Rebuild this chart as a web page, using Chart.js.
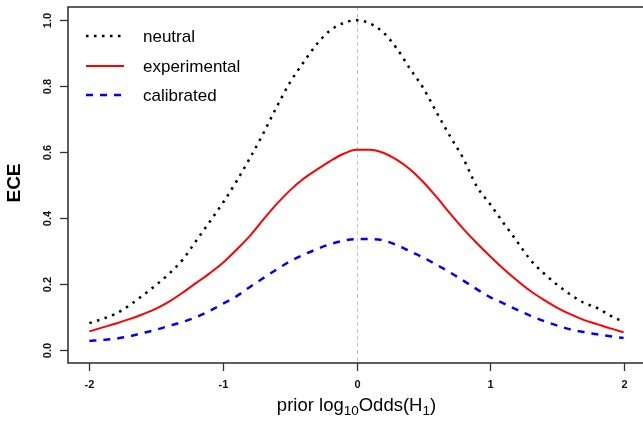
<!DOCTYPE html>
<html><head><meta charset="utf-8">
<script src="https://cdn.jsdelivr.net/npm/chart.js@4.4.1/dist/chart.umd.min.js"></script>
<style>html,body{margin:0;padding:0;overflow:hidden;background:#fff}#wrap{width:643px;height:421px;overflow:hidden}</style>
</head><body><div id="wrap"><canvas id="c" width="660" height="421"></canvas></div>
<script>
const priorLogOdds = [-2.0,-1.9,-1.8,-1.7,-1.6,-1.5,-1.4,-1.3,-1.2,-1.1,-1.0,-0.9,-0.8,-0.7,-0.6,-0.5,-0.4,-0.3,-0.2,-0.1,0.0,0.1,0.2,0.3,0.4,0.5,0.6,0.7,0.8,0.9,1.0,1.1,1.2,1.3,1.4,1.5,1.6,1.7,1.8,1.9,2.0];
const neutral = [0.081,0.094,0.110,0.135,0.165,0.197,0.232,0.274,0.331,0.388,0.446,0.510,0.580,0.655,0.735,0.810,0.870,0.926,0.968,0.991,1.000,0.990,0.963,0.915,0.853,0.794,0.720,0.648,0.580,0.496,0.442,0.385,0.330,0.274,0.233,0.198,0.168,0.143,0.127,0.104,0.084];
const experimental = [0.056,0.068,0.080,0.093,0.108,0.125,0.147,0.174,0.203,0.232,0.264,0.303,0.345,0.394,0.441,0.483,0.518,0.546,0.572,0.594,0.607,0.607,0.598,0.577,0.548,0.509,0.463,0.414,0.367,0.324,0.284,0.246,0.211,0.179,0.152,0.128,0.108,0.091,0.078,0.065,0.053];
const calibrated = [0.027,0.030,0.034,0.041,0.051,0.061,0.073,0.085,0.099,0.118,0.140,0.162,0.190,0.217,0.243,0.268,0.288,0.305,0.320,0.331,0.336,0.336,0.332,0.318,0.299,0.280,0.258,0.235,0.210,0.184,0.160,0.141,0.122,0.104,0.088,0.074,0.062,0.054,0.047,0.041,0.036];
const seriesLabels = ['neutral','experimental','calibrated'];
const xTicks = [-2,-1,0,1,2];
const xTickLabels = ['-2','-1','0','1','2'];
const yTicks = [0,0.2,0.4,0.6,0.8,1.0];
const yTickLabels = ['0.0','0.2','0.4','0.6','0.8','1.0'];
const yTitle = 'ECE';

const FONT = '"Liberation Sans", Arial, Helvetica, sans-serif';
function pts(ys){ return priorLogOdds.map((x,i)=>({x:x,y:ys[i]})); }

const decor = {
  id:'decor',
  beforeDatasetsDraw(chart){
    const {ctx, chartArea:a, scales:{x}} = chart;
    const px = Math.round(x.getPixelForValue(0))+0.5;
    ctx.save();
    ctx.strokeStyle='#c4c4c4'; ctx.lineWidth=1; ctx.setLineDash([4,3]);
    ctx.beginPath(); ctx.moveTo(px,a.top); ctx.lineTo(px,a.bottom); ctx.stroke();
    ctx.restore();
  },
  afterDraw(chart){
    const {ctx, chartArea:a, scales:{x,y}} = chart;
    ctx.save();
    ctx.strokeStyle='#2a2a2a'; ctx.lineWidth=1.5; ctx.setLineDash([]);
    ctx.strokeRect(a.left, a.top, a.right-a.left, a.bottom-a.top);
    ctx.lineWidth=1.3; ctx.strokeStyle='#333';
    ctx.fillStyle='#111';
    ctx.font='bold 11px '+FONT;
    yTicks.forEach((v,i)=>{
      const py = Math.round(y.getPixelForValue(v))+0.5;
      ctx.beginPath(); ctx.moveTo(a.left-8,py); ctx.lineTo(a.left,py); ctx.stroke();
      ctx.save(); ctx.translate(47.5,py); ctx.rotate(-Math.PI/2);
      ctx.textAlign='center'; ctx.textBaseline='middle'; ctx.fillText(yTickLabels[i],0,0);
      ctx.restore();
    });
    xTicks.forEach((v,i)=>{
      const px = Math.round(x.getPixelForValue(v))+0.5;
      ctx.beginPath(); ctx.moveTo(px,a.bottom); ctx.lineTo(px,a.bottom+8); ctx.stroke();
      ctx.textAlign='center'; ctx.textBaseline='middle'; ctx.fillText(xTickLabels[i],px,385);
    });
    // y title
    ctx.save(); ctx.translate(15,(a.top+a.bottom)/2-2); ctx.rotate(-Math.PI/2);
    ctx.font='bold 19px '+FONT; ctx.textAlign='center'; ctx.textBaseline='middle'; ctx.fillStyle='#000';
    ctx.fillText(yTitle,0,0); ctx.restore();
    // x title with subscripts
    const parts=[['prior log',0],['10',1],['Odds(H',0],['1',1],[')',0]];
    const big='18.5px '+FONT, small='13.5px '+FONT;
    let w=0; parts.forEach(p=>{ctx.font=p[1]?small:big; w+=ctx.measureText(p[0]).width;});
    let cx=(a.left+a.right)/2 - w/2; const base=411;
    ctx.fillStyle='#000'; ctx.textAlign='left'; ctx.textBaseline='alphabetic';
    parts.forEach(p=>{ctx.font=p[1]?small:big; ctx.fillText(p[0],cx,base+(p[1]?4:0)); cx+=ctx.measureText(p[0]).width;});
    // legend
    const rows=[36,66,95];
    chart.data.datasets.forEach((ds,i)=>{
      ctx.strokeStyle=ds.borderColor; ctx.lineWidth=ds.borderWidth; ctx.lineCap='butt';
      ctx.setLineDash(ds.borderDash||[]);
      ctx.beginPath(); ctx.moveTo(86,rows[i]); ctx.lineTo(124,rows[i]); ctx.stroke();
      ctx.setLineDash([]);
      ctx.fillStyle='#000'; ctx.font='17px '+FONT; ctx.textBaseline='middle'; ctx.textAlign='left';
      ctx.fillText(ds.label,143,rows[i]+1);
    });
    ctx.restore();
  }
};

new Chart(document.getElementById('c'),{
  type:'line',
  data:{datasets:[
    {label:seriesLabels[0],data:pts(neutral),borderColor:'#000000',borderWidth:2.5,borderDash:[2.5,5.5],pointRadius:0,fill:false,cubicInterpolationMode:'monotone'},
    {label:seriesLabels[1],data:pts(experimental),borderColor:'#ff0000',borderWidth:2,pointRadius:0,fill:false,cubicInterpolationMode:'monotone'},
    {label:seriesLabels[2],data:pts(calibrated),borderColor:'#0000ff',borderWidth:2.5,borderDash:[7,7],pointRadius:0,fill:false,cubicInterpolationMode:'monotone'}
  ]},
  options:{
    responsive:false, animation:false, devicePixelRatio:1,
    layout:{padding:{top:7,right:15,left:0,bottom:0}},
    plugins:{legend:{display:false},tooltip:{enabled:false}},
    scales:{
      x:{type:'linear',min:-2.16,max:2.16,grid:{display:false},border:{display:false},ticks:{display:false},afterFit:s=>{s.height=58;}},
      y:{type:'linear',min:-0.04,max:1.04,grid:{display:false},border:{display:false},ticks:{display:false},afterFit:s=>{s.width=68;}}
    }
  },
  plugins:[decor]
});
</script></body></html>
